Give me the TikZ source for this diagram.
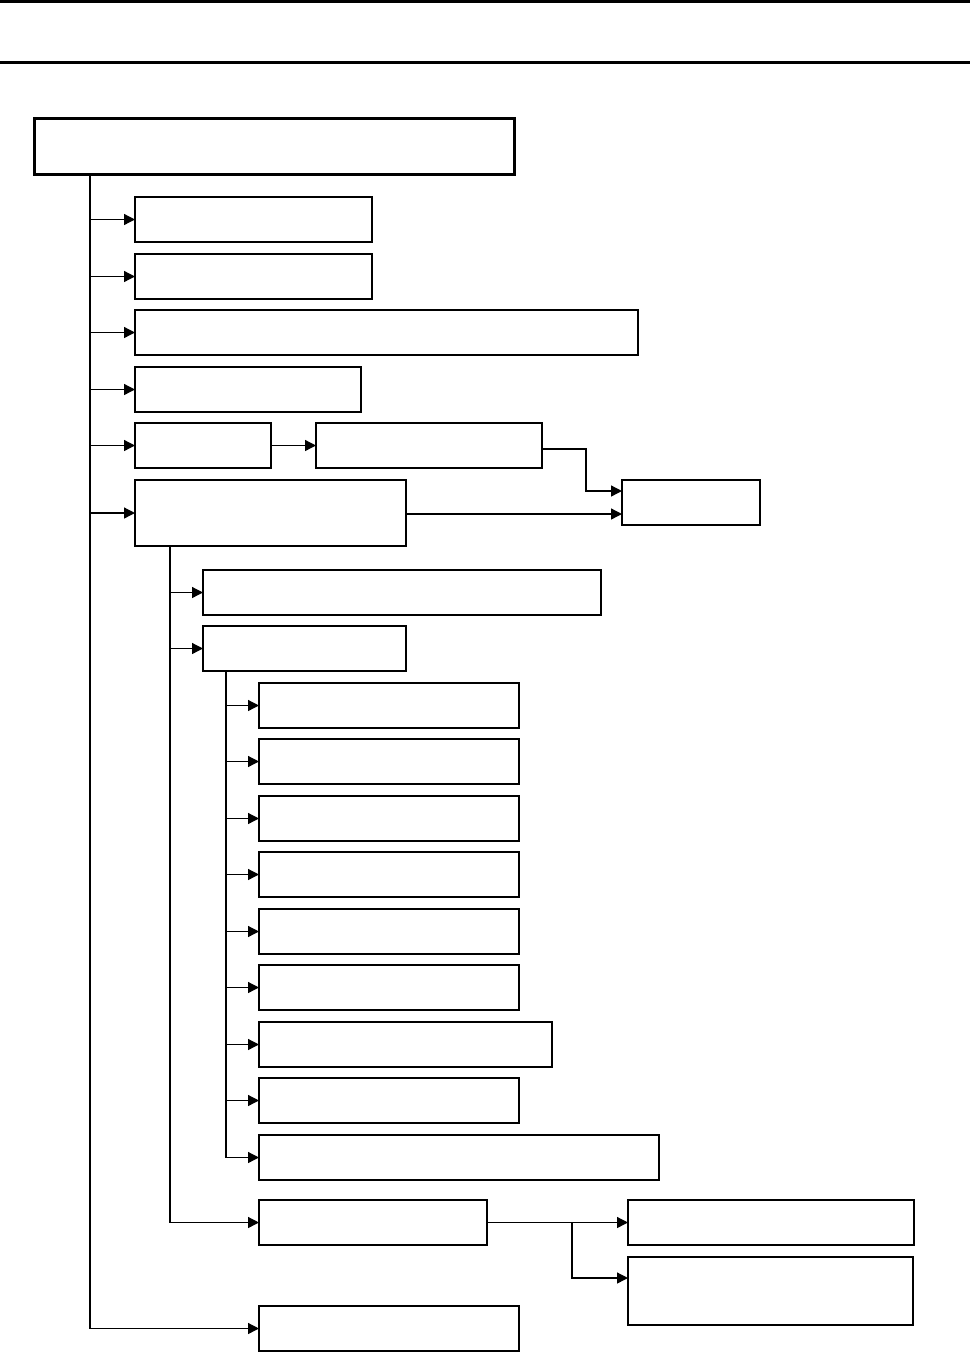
\documentclass[tikz,border=0pt]{standalone}
\usetikzlibrary{arrows.meta}
\tikzset{
  box/.style={draw=black, line width=1.6pt, fill=white, inner sep=0pt, outer sep=0pt, anchor=north west},
  rootbox/.style={box, line width=3pt},
  conn/.style={draw=black, line width=1.3pt},
  arr/.style={conn, -{Triangle[length=11pt,width=11pt]}},
  rule/.style={draw=black, line width=3pt}
}
\newcommand{\bx}[6][box]{\node[#1, minimum width=#4pt-#2pt, minimum height=#5pt-#3pt] (#6) at (#2,-#3) {};}
\begin{document}
\begin{tikzpicture}[x=1pt,y=1pt]
\useasboundingbox (0,0) rectangle (970,-1353);
% header rules
\coordinate (hl1) at (0,-1.5);
\coordinate (hr1) at (970,-1.5);
\coordinate (hl2) at (0,-62);
\coordinate (hr2) at (970,-62);
\draw[rule] (hl1) -- (hr1);
\draw[rule] (hl2) -- (hr2);
% boxes
\bx[rootbox]{34}{118}{514}{174}{root}
\bx{135}{197}{372}{242}{b1}
\bx{135}{254}{372}{299}{b2}
\bx{135}{310}{638}{355}{b3}
\bx{135}{367}{361}{412}{b4}
\bx{135}{423}{271}{468}{b5a}
\bx{316}{423}{542}{468}{b5b}
\bx{135}{480}{406}{546}{b6}
\bx{622}{480}{760}{525}{R}
\bx{203}{570}{601}{615}{b7}
\bx{203}{626}{406}{671}{b8}
\bx{259}{683}{519}{728}{c1}
\bx{259}{739}{519}{784}{c2}
\bx{259}{796}{519}{841}{c3}
\bx{259}{852}{519}{897}{c4}
\bx{259}{909}{519}{954}{c5}
\bx{259}{965}{519}{1010}{c6}
\bx{259}{1022}{552}{1067}{c7}
\bx{259}{1078}{519}{1123}{c8}
\bx{259}{1135}{659}{1180}{c9}
\bx{259}{1200}{487}{1245}{S}
\bx{628}{1200}{914}{1245}{T}
\bx{628}{1257}{913}{1325}{U}
\bx{259}{1306}{519}{1351}{L}
% trunk coordinates
\coordinate (t) at (90,0);
\coordinate (t2) at (170,0);
\coordinate (t3) at (226,0);
% main trunk
\draw[arr] (t |- root.south) -- (t |- L.west) -- (L.west);
\foreach \n in {b1,b2,b3,b4,b5a,b6}{
  \draw[arr] (t |- \n.west) -- (\n.west);
}
\draw[arr] (b5a.east) -- (b5a.east -| b5b.west);
% to R
\coordinate (rj1) at (586,-449);
\coordinate (ry1) at (0,-491);
\coordinate (ry2) at (0,-514);
\draw[arr] (b5b.east |- rj1) -- (rj1) -- (rj1 |- ry1) -- (R.west |- ry1);
\draw[arr] (b6.east |- ry2) -- (R.west |- ry2);
% sub trunk
\draw[arr] (t2 |- b6.south) -- (t2 |- S.west) -- (S.west);
\draw[arr] (t2 |- b7.west) -- (b7.west);
\draw[arr] (t2 |- b8.west) -- (b8.west);
% sub-sub trunk
\draw[conn] (t3 |- b8.south) -- (t3 |- c9.west);
\foreach \n in {c1,c2,c3,c4,c5,c6,c7,c8,c9}{
  \draw[arr] (t3 |- \n.west) -- (\n.west);
}
% S branches
\coordinate (sj) at (572,0);
\coordinate (uy) at (0,-1278);
\draw[arr] (S.east) -- (T.west);
\draw[arr] (sj |- S.east) -- (sj |- uy) -- (U.west |- uy);
\end{tikzpicture}
\end{document}
